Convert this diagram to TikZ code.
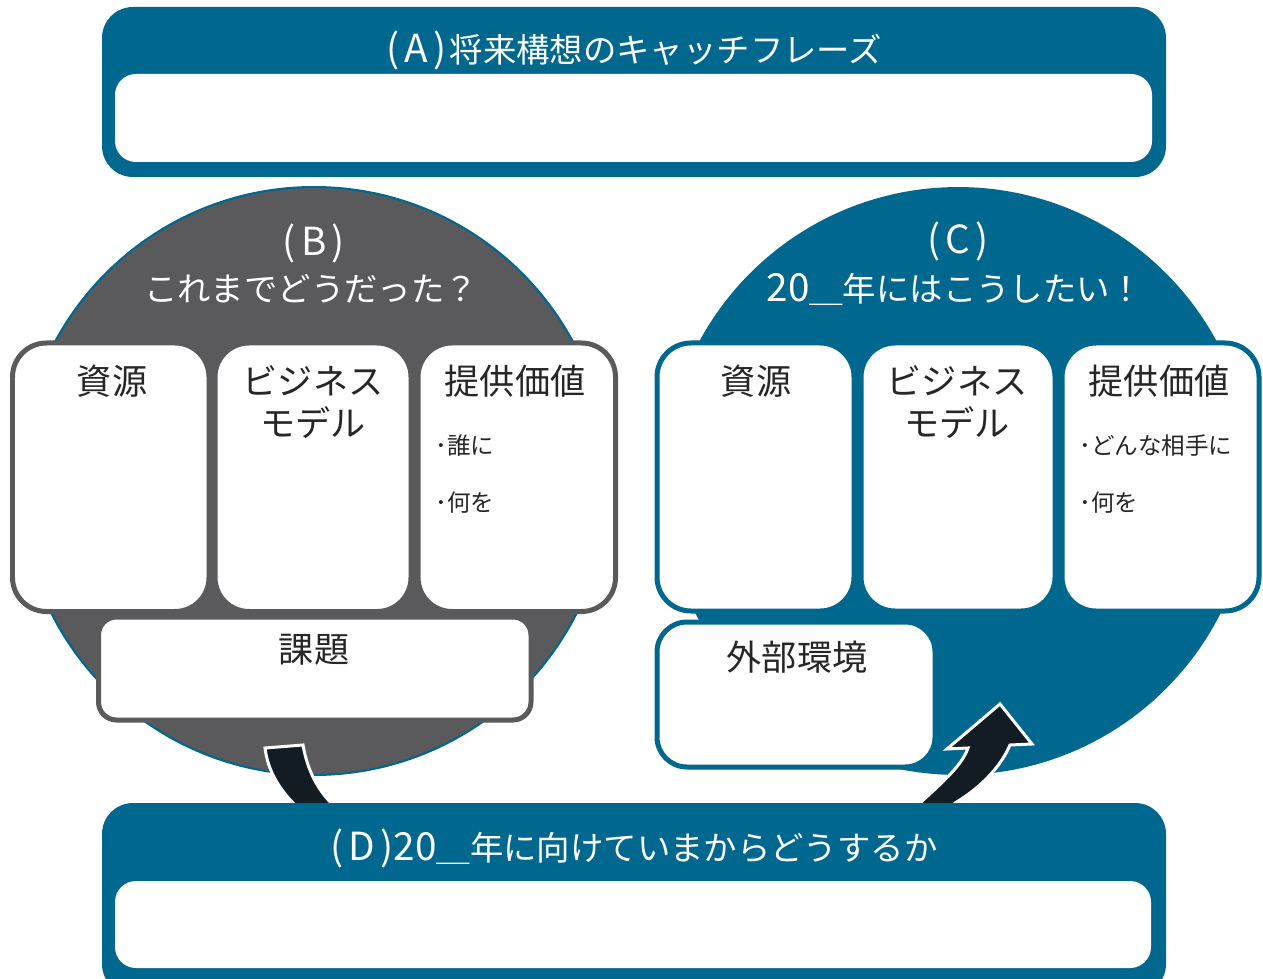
\documentclass[tikz,border=0pt]{standalone}
\usepackage{fontspec}
\setmainfont{Noto Sans CJK JP}
\definecolor{mblue}{RGB}{0,104,142}
\definecolor{mgray}{RGB}{90,90,92}
\definecolor{mdark}{RGB}{19,28,34}
\newcommand{\latx}[1]{{\fontsize{22}{26}\selectfont #1}}
\newcommand{\plab}[1]{\latx{(\kern3pt #1\kern3pt)}}
\begin{document}
\begin{tikzpicture}[x=0.02cm,y=-0.02cm,
  ttl/.style={text=white, font=\fontsize{19}{23}\selectfont, inner sep=0pt},
  hd/.style={text=black!85, font=\fontsize{20}{24}\selectfont, inner sep=0pt, align=center},
  bl/.style={text=black!85, font=\fontsize{13.4}{16}\selectfont, inner sep=0pt, anchor=west},
  gbox/.style={fill=white, draw=mgray, line width=0.1cm, rounded corners=0.68cm},
  bbox/.style={fill=white, draw=mblue, line width=0.1cm, rounded corners=0.68cm},
  panel/.style={fill=mblue, rounded corners=0.62cm},
  inbox/.style={fill=white, rounded corners=0.42cm},
  arr/.style={fill=mdark, draw=white, line width=0.06cm, line join=miter}]
\useasboundingbox (0,0) rectangle (1263,979);

% (A) panel
\fill[panel] (102,7) rectangle (1166,177);
\fill[inbox] (115,74) rectangle (1152,162);
\node[ttl] (tA) at (634,50) {\plab{A}\kern2pt 将来構想のキャッチフレーズ};

% circles
\filldraw[fill=mgray, draw=mblue, line width=1.2pt] (314,481) circle (5.88cm);
\fill[mblue] (958,481) circle (5.88cm);

\node[ttl] (tB1) at (314,243) {\plab{B}};
\node[ttl] (tB2) at (311,289) {これまでどうだった？};
\node[ttl] (tC1) at (958,241) {\plab{C}};
\node[ttl] (tC2) at (955,289) {\latx{20}＿年にはこうしたい！};

% B boxes
\draw[gbox] (12.5,343) rectangle (209,611.5);
\draw[gbox] (215,343) rectangle (411,611.5);
\draw[gbox] (418,343) rectangle (615.5,611.5);
\draw[gbox, rounded corners=0.36cm] (98.5,617) rectangle (531,720);
\node[hd] (b1) at (112,381) {資源};
\node[hd] (b2) at (313,402) {ビジネス\\モデル};
\node[hd] (b3) at (515,381) {提供価値};
\node[bl] (b3a) at (435,446) {･誰に};
\node[bl] (b3b) at (435,503) {･何を};
\node[hd] (b4) at (314,650) {課題};

% C boxes
\draw[bbox] (657,343) rectangle (854,611);
\draw[bbox] (861,343) rectangle (1055,611);
\draw[bbox] (1062,343) rectangle (1259,611);
\draw[bbox, rounded corners=0.6cm] (657,622) rectangle (935,767);
\node[hd] (c1) at (756,381) {資源};
\node[hd] (c2) at (957,402) {ビジネス\\モデル};
\node[hd] (c3) at (1159,381) {提供価値};
\node[bl] (c3a) at (1079,446) {･どんな相手に};
\node[bl] (c3b) at (1079,503) {･何を};
\node[hd] (c4) at (797,657) {外部環境};

% arrows
\coordinate (la1) at (265,748);
\coordinate (la2) at (303,745);
\filldraw[arr] (la1) -- (la2) .. controls (307,768) and (316,788) .. (333,805)
  -- (355,830) -- (315,830) -- (296,806) .. controls (280,790) and (268,772) .. (la1) -- cycle;
\coordinate (tip) at (1000,704);
\filldraw[arr] (905,830) -- (920,803) .. controls (945,780) and (962,765) .. (968,748)
  -- (947,749) -- (tip) -- (1032,744) -- (1010,745)
  .. controls (1000,768) and (980,788) .. (955,803) -- (940,830) -- cycle;

% (D) panel
\fill[panel] (102,803) rectangle (1166,995);
\fill[inbox] (115,881) rectangle (1151,968);
\node[ttl] (tD) at (634,848) {\plab{D}\latx{20}＿年に向けていまからどうするか};
\end{tikzpicture}
\end{document}
